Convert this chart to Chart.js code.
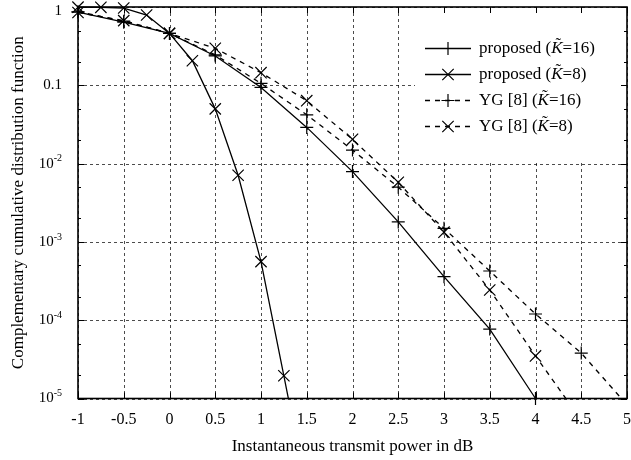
<!DOCTYPE html>
<html>
<head>
<meta charset="utf-8">
<script src="https://cdn.jsdelivr.net/npm/chart.js"></script>
<style>
  html, body { margin: 0; padding: 0; background: #fff; }
  #wrap { width: 631px; height: 460px; }
</style>
</head>
<body>
<div id="wrap"><canvas id="ccdf"></canvas></div>
<script>
// x positions (dB)
const xCoarse = [-1, -0.5, 0, 0.5, 1, 1.5, 2, 2.5, 3, 3.5, 4, 4.5, 5];
const xFine = [-1, -0.75, -0.5, -0.25, 0, 0.25, 0.5, 0.75, 1, 1.25, 1.5];

// CCDF values
const proposed16 = [0.86, 0.64, 0.46, 0.237, 0.094, 0.029, 0.0079, 0.0018, 3.6e-4, 7.7e-5, 1e-5];
const proposed8 = [0.995, 0.99, 0.97, 0.79, 0.46, 0.206, 0.050, 0.0071, 5.6e-4, 1.95e-5, 6.5e-7];
const yg16 = [0.87, 0.66, 0.46, 0.245, 0.106, 0.042, 0.0149, 0.0050, 0.00149, 4.25e-4, 1.2e-4, 3.8e-5, 8.3e-6];
const yg8 = [0.85, 0.67, 0.46, 0.297, 0.145, 0.0636, 0.0204, 0.00577, 0.00133, 2.43e-4, 3.5e-5, 5.3e-6];

const seriesLabels = ["proposed (K\u0303=16)", "proposed (K\u0303=8)", "YG [8] (K\u0303=16)", "YG [8] (K\u0303=8)"];

const xTickLabels = ["-1", "-0.5", "0", "0.5", "1", "1.5", "2", "2.5", "3", "3.5", "4", "4.5", "5"];
const yTickValues = [1, 0.1, 1e-2, 1e-3, 1e-4, 1e-5];
const yTickLabels = ["1", "0.1", "10^-2", "10^-3", "10^-4", "10^-5"];

const FONT = '"Liberation Serif", "Times New Roman", serif';

function pts(xs, ys) {
  return ys.map((v, i) => ({ x: xs[i], y: v }));
}

const dashed = [5, 5];
const clipBottom = { left: 12, top: 12, right: 12, bottom: 0 };

// grid, box, ticks, y labels and the key
const frame = {
  id: "frame",
  beforeDatasetsDraw(chart) {
    const { ctx, chartArea: a, scales: { x, y } } = chart;
    ctx.save();
    ctx.strokeStyle = "rgba(0,0,0,0.7)";
    ctx.lineWidth = 1;
    ctx.setLineDash([3, 3]);
    ctx.beginPath();
    xTickLabels.forEach((t) => {
      const px = Math.round(x.getPixelForValue(Number(t))) + 0.5;
      ctx.moveTo(px, a.top);
      ctx.lineTo(px, a.bottom);
    });
    yTickValues.forEach((v) => {
      const py = Math.round(y.getPixelForValue(v)) + 0.5;
      ctx.moveTo(a.left, py);
      ctx.lineTo(a.right, py);
    });
    ctx.stroke();
    // opaque key area
    ctx.fillStyle = "#fff";
    ctx.fillRect(415, a.top + 1, a.right - 416, 161 - a.top);
    ctx.restore();
  },
  afterDatasetsDraw(chart) {
    const { ctx, chartArea: a, scales: { x, y } } = chart;
    ctx.save();
    ctx.setLineDash([]);
    ctx.strokeStyle = "#000";
    ctx.lineWidth = 1;
    ctx.beginPath();
    // x ticks bottom and top
    xTickLabels.forEach((t) => {
      const px = Math.round(x.getPixelForValue(Number(t))) + 0.5;
      ctx.moveTo(px, a.bottom); ctx.lineTo(px, a.bottom - 6);
      ctx.moveTo(px, a.top); ctx.lineTo(px, a.top + 6);
    });
    // y ticks left and right, minor at 2x and 5x
    yTickValues.forEach((v) => {
      const py = Math.round(y.getPixelForValue(v)) + 0.5;
      ctx.moveTo(a.left, py); ctx.lineTo(a.left + 6, py);
      ctx.moveTo(a.right, py); ctx.lineTo(a.right - 6, py);
      [2, 5].forEach((m) => {
        const mv = v * m;
        if (mv > 1) return;
        const my = Math.round(y.getPixelForValue(mv)) + 0.5;
        ctx.moveTo(a.left, my); ctx.lineTo(a.left + 3, my);
        ctx.moveTo(a.right, my); ctx.lineTo(a.right - 3, my);
      });
    });
    ctx.stroke();
    ctx.lineWidth = 1.6;
    ctx.strokeRect(a.left, a.top, a.right - a.left, a.bottom - a.top);

    // y tick labels with superscripts
    ctx.fillStyle = "#000";
    ctx.textBaseline = "middle";
    yTickValues.forEach((v, i) => {
      const py = Math.max(y.getPixelForValue(v), a.top + 4);
      const [base, sup] = yTickLabels[i].split("^");
      const right = a.left - 16;
      if (sup) {
        ctx.font = "10px " + FONT;
        const sw = ctx.measureText(sup).width;
        ctx.textAlign = "right";
        ctx.fillText(sup, right, py - 5);
        ctx.font = "15px " + FONT;
        ctx.fillText(base, right - sw, py);
      } else {
        ctx.font = "15px " + FONT;
        ctx.textAlign = "right";
        ctx.fillText(base, right, py);
      }
    });

    // key
    const rowY = [48.5, 74.5, 100.5, 126.5];
    chart.data.datasets.forEach((ds, i) => {
      const yy = rowY[i];
      ctx.lineWidth = 1.3;
      ctx.setLineDash(ds.borderDash || []);
      ctx.beginPath();
      ctx.moveTo(425, yy); ctx.lineTo(471, yy);
      ctx.stroke();
      ctx.setLineDash([]);
      ctx.lineWidth = 1.2;
      ctx.beginPath();
      const cx = 448;
      if (ds.pointStyle === "cross") {
        ctx.moveTo(cx - 6.5, yy); ctx.lineTo(cx + 6.5, yy);
        ctx.moveTo(cx, yy - 6.5); ctx.lineTo(cx, yy + 6.5);
      } else {
        ctx.moveTo(cx - 5.7, yy - 5.7); ctx.lineTo(cx + 5.7, yy + 5.7);
        ctx.moveTo(cx - 5.7, yy + 5.7); ctx.lineTo(cx + 5.7, yy - 5.7);
      }
      ctx.stroke();

      const [pre, post] = ds.label.split("K\u0303");
      let tx = 479;
      ctx.textAlign = "left";
      ctx.textBaseline = "middle";
      ctx.font = "17px " + FONT;
      ctx.fillText(pre, tx, yy);
      tx += ctx.measureText(pre).width;
      ctx.font = "italic 17px " + FONT;
      ctx.fillText("K", tx, yy);
      const kw = ctx.measureText("K").width;
      ctx.font = "17px " + FONT;
      const tw = ctx.measureText("\u02DC").width;
      ctx.fillText("\u02DC", tx + kw / 2 - tw / 2 + 1.5, yy - 4);
      tx += kw;
      ctx.fillText(post, tx, yy);
    });
    ctx.restore();
  }
};

new Chart(document.getElementById("ccdf"), {
  type: "line",
  data: {
    datasets: [
      {
        label: seriesLabels[0],
        data: pts(xCoarse, proposed16),
        pointStyle: "cross",
        pointRadius: 6.5,
        clip: false
      },
      {
        label: seriesLabels[1],
        data: pts(xFine, proposed8),
        pointStyle: "crossRot",
        pointRadius: 8,
        clip: clipBottom
      },
      {
        label: seriesLabels[2],
        data: pts(xCoarse, yg16),
        pointStyle: "cross",
        pointRadius: 6.5,
        borderDash: dashed,
        clip: clipBottom
      },
      {
        label: seriesLabels[3],
        data: pts(xCoarse, yg8),
        pointStyle: "crossRot",
        pointRadius: 8,
        borderDash: dashed,
        clip: clipBottom
      }
    ]
  },
  options: {
    responsive: true,
    maintainAspectRatio: false,
    animation: false,
    layout: { autoPadding: false, padding: { left: 0, right: 4, top: 7, bottom: 0 } },
    elements: {
      line: { borderColor: "#000", borderWidth: 1.3, tension: 0, fill: false },
      point: { borderColor: "#000", backgroundColor: "#000", borderWidth: 1.2, hoverRadius: 6.5 }
    },
    plugins: {
      legend: { display: false },
      tooltip: { enabled: false }
    },
    scales: {
      x: {
        type: "linear",
        min: -1,
        max: 5,
        grid: { display: false },
        border: { display: false },
        ticks: {
          stepSize: 0.5,
          autoSkip: false,
          maxRotation: 0,
          padding: 4,
          color: "#000",
          font: { family: FONT, size: 16 },
          callback: (v, i) => xTickLabels[i]
        },
        title: {
          display: true,
          text: "Instantaneous transmit power in dB",
          color: "#000",
          font: { family: FONT, size: 17 },
          padding: { top: 0, bottom: 3 }
        },
        afterFit: (scale) => {
          scale.height = 61.5;
          scale.paddingLeft = 0;
          scale.paddingRight = 0;
        }
      },
      y: {
        type: "logarithmic",
        min: 1e-5,
        max: 1,
        grid: { display: false },
        border: { display: false },
        ticks: { display: false },
        afterBuildTicks: (scale) => { scale.ticks = yTickValues.map((v) => ({ value: v })); },
        title: {
          display: true,
          text: "Complementary cumulative distribution function",
          color: "#000",
          font: { family: FONT, size: 17 },
          padding: { top: 8, bottom: 0 }
        },
        afterFit: (scale) => { scale.width = 78; }
      }
    }
  },
  plugins: [frame]
});
</script>
</body>
</html>
